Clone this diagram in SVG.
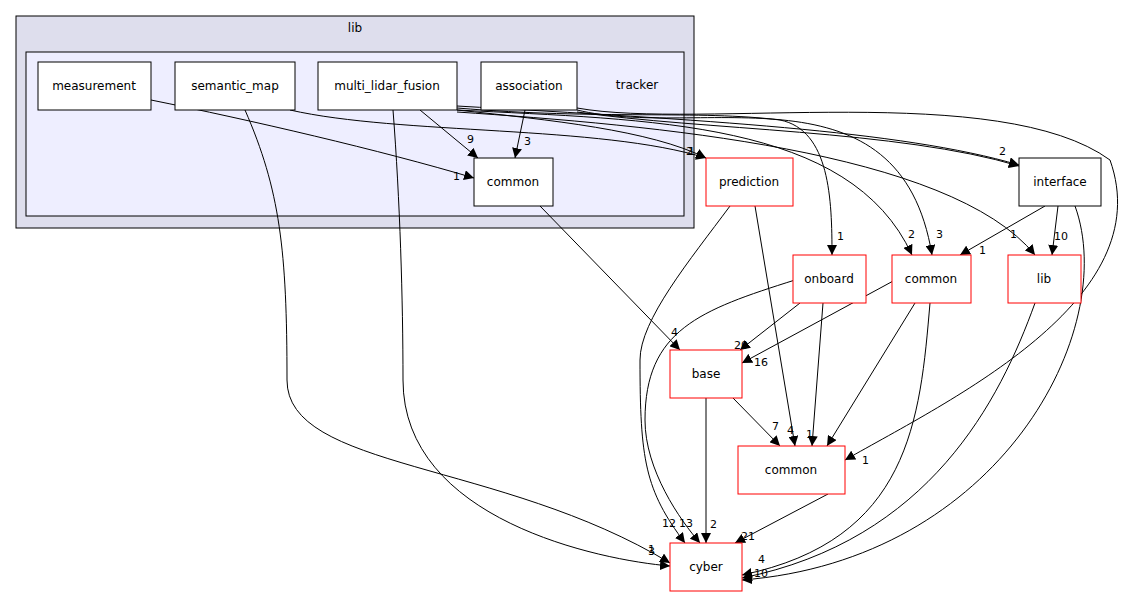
<svg xmlns="http://www.w3.org/2000/svg" width="1141" height="596" viewBox="0 0 1141 596">
<style>
text{font-family:"DejaVu Sans",sans-serif;font-size:12px;fill:#000}
.lbl{font-size:11px}
.n{fill:#fff;stroke:#000;stroke-width:1}
.r{fill:#fff;stroke:#f00;stroke-width:1}
.e{fill:none;stroke:#000;stroke-width:1;marker-end:url(#a)}
</style>
<defs><marker id="a" markerUnits="userSpaceOnUse" markerWidth="12" markerHeight="10" refX="10" refY="5" orient="auto"><path d="M0,0L10,5L0,10z" fill="#000"/></marker></defs>
<rect x="16" y="16" width="678" height="212" fill="#dedeed" stroke="#000"/>
<text x="355" y="32" text-anchor="middle">lib</text>
<rect x="26" y="52" width="658" height="164" fill="#eeeeff" stroke="#000"/>
<text x="637" y="89" text-anchor="middle">tracker</text>
<g id="connectors">
<path class="e" d="M151,100C250,120 380,150 474,178"/>
<path class="e" d="M290,110C400,135 600,125 706,158"/>
<path class="e" d="M245,110C280,190 287,250 287,380C287,470 500,460 670,563"/>
<path class="e" d="M420,110L478,158"/>
<path class="e" d="M393,110C400,200 403,300 403,380C403,520 600,560 670,566"/>
<path class="e" d="M457,110C550,120 650,130 706,158"/>
<path class="e" d="M457,108C600,120 700,110 780,120C830,130 832,200 832,255"/>
<path class="e" d="M457,110C650,120 850,120 912,255"/>
<path class="e" d="M457,112C650,125 950,150 1035,255"/>
<path class="e" d="M457,106C700,120 900,130 1019,165"/>
<path class="e" d="M525,110L515,158"/>
<path class="e" d="M577,110C700,140 900,60 932,255"/>
<path class="e" d="M577,112C700,130 900,130 1019,166"/>
<path class="e" d="M577,108C700,130 1000,80 1110,160C1160,300 950,400 845,460"/>
<path class="e" d="M540,206L680,350"/>
<path class="e" d="M730,206C690,260 640,320 640,360C640,460 645,490 685,543"/>
<path class="e" d="M755,206L795,446"/>
<path class="e" d="M800,303L740,350"/>
<path class="e" d="M823,303L812,446"/>
<path class="e" d="M795,280C700,310 645,330 645,420C645,470 680,520 700,543"/>
<path class="e" d="M895,280L742,363"/>
<path class="e" d="M915,303L827,446"/>
<path class="e" d="M930,303C920,420 910,540 742,575"/>
<path class="e" d="M1045,206L960,255"/>
<path class="e" d="M1058,206L1052,255"/>
<path class="e" d="M1075,206C1120,330 1000,560 742,580"/>
<path class="e" d="M1035,303C1000,400 930,540 742,578"/>
<path class="e" d="M706,398L706,543"/>
<path class="e" d="M733,398L780,446"/>
<path class="e" d="M828,494L735,543"/>
</g>
<g>
<text class="lbl" x="453" y="180">1</text>
<text class="lbl" x="686" y="155">2</text><text class="lbl" x="688" y="155">1</text>
<text class="lbl" x="648" y="555">3</text><text class="lbl" x="648" y="553">1</text>
<text class="lbl" x="467" y="143">9</text>
<text class="lbl" x="524" y="145">3</text>
<text class="lbl" x="837" y="240">1</text>
<text class="lbl" x="908" y="238">2</text>
<text class="lbl" x="936" y="238">3</text>
<text class="lbl" x="1010" y="238">1</text>
<text class="lbl" x="999" y="155">2</text>
<text class="lbl" x="979" y="254">1</text>
<text class="lbl" x="1054" y="240">10</text>
<text class="lbl" x="671" y="336">4</text>
<text class="lbl" x="734" y="349">20</text>
<text class="lbl" x="754" y="366">16</text>
<text class="lbl" x="741" y="468">3</text>
<text class="lbl" x="772" y="430">7</text>
<text class="lbl" x="787" y="434">4</text>
<text class="lbl" x="806" y="438">1</text>
<text class="lbl" x="862" y="464">1</text>
<text class="lbl" x="662" y="527">12</text>
<text class="lbl" x="679" y="527">13</text>
<text class="lbl" x="710" y="528">2</text>
<text class="lbl" x="741" y="540">21</text>
<text class="lbl" x="758" y="563">4</text>
<text class="lbl" x="754" y="577">10</text>
</g>
<g id="measurement"><rect class="n" x="38" y="62" width="113" height="48"/><text x="94" y="90" text-anchor="middle">measurement</text></g>
<g id="semantic_map"><rect class="n" x="175" y="62" width="120" height="48"/><text x="235" y="90" text-anchor="middle">semantic_map</text></g>
<g id="multi_lidar_fusion"><rect class="n" x="318" y="62" width="139" height="48"/><text x="387" y="90" text-anchor="middle">multi_lidar_fusion</text></g>
<g id="association"><rect class="n" x="481" y="62" width="96" height="48"/><text x="529" y="90" text-anchor="middle">association</text></g>
<g id="common_tracker"><rect class="n" x="474" y="158" width="79" height="48"/><text x="513" y="186" text-anchor="middle">common</text></g>
<g id="prediction"><rect class="r" x="706" y="158" width="87" height="48"/><text x="749" y="186" text-anchor="middle">prediction</text></g>
<g id="interface"><rect class="n" x="1019" y="158" width="82" height="48"/><text x="1060" y="186" text-anchor="middle">interface</text></g>
<g id="onboard"><rect class="r" x="793" y="255" width="73" height="48"/><text x="829" y="283" text-anchor="middle">onboard</text></g>
<g id="common2"><rect class="r" x="892" y="255" width="79" height="48"/><text x="931" y="283" text-anchor="middle">common</text></g>
<g id="lib2"><rect class="r" x="1008" y="255" width="73" height="48"/><text x="1044" y="283" text-anchor="middle">lib</text></g>
<g id="base"><rect class="r" x="670" y="350" width="72" height="48"/><text x="706" y="378" text-anchor="middle">base</text></g>
<g id="common3"><rect class="r" x="738" y="446" width="107" height="48"/><text x="791" y="474" text-anchor="middle">common</text></g>
<g id="cyber"><rect class="r" x="670" y="543" width="72" height="48"/><text x="706" y="571" text-anchor="middle">cyber</text></g>
</svg>
